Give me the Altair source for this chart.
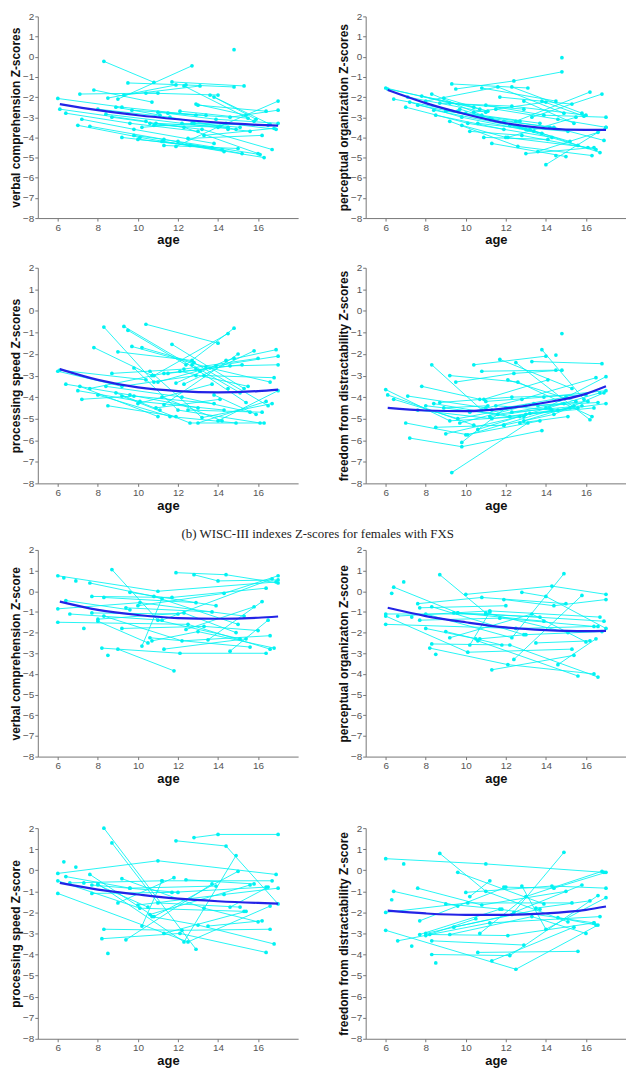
import altair as alt
import pandas as pd

# ---------------- data ----------------
# males with FXS: visit ages per subject (shared by the four indexes)
male_ages = [
    [6.0, 9.2, 12.9], [6.1, 10.4], [6.4, 9.6, 13.0], [7.0, 10.1, 14.3], [7.1, 11.0],
    [7.2, 9.8, 13.8], [7.6, 11.3, 15.2], [7.8, 10.7], [8.0, 11.6, 14.9], [8.3, 10.8],
    [8.4, 12.2, 15.6], [8.5, 11.9], [8.7, 12.3, 16.0], [8.9, 11.1], [9.2, 12.6, 16.3],
    [9.3, 13.1], [9.5, 12.4, 14.8], [9.7, 13.4], [9.8, 12.0, 16.1], [10.0, 13.7],
    [10.2, 12.8, 16.5], [10.4, 14.0], [10.6, 13.2, 16.7], [10.8, 14.5], [11.0, 13.9, 17.0],
    [11.2, 14.2], [11.3, 15.0], [11.5, 14.6, 17.0], [11.7, 15.3], [11.9, 14.4, 16.9],
    [12.1, 15.5], [12.3, 15.8], [12.5, 16.2], [12.7, 15.1], [13.0, 16.4],
    [13.3, 16.8], [13.6, 16.6], [14.0, 17.0], [14.5], [14.8],
    [13.8, 15.9], [9.0, 12.7], [10.9, 14.1], [12.9, 15.4],
]

vc_m = [
    [-2.07, -2.5, -2.9], [-2.6, -3.2], [-2.8, -3.3, -3.7], [-3.4, -4.0, -4.7], [-1.85, -1.8],
    [-3.1, -3.6, -4.3], [-3.45, -4.1, -4.8], [-1.65, -2.25], [-2.6, -3.0, -3.6], [-0.23, -1.27],
    [-2.85, -3.3, -3.7], [-2.05, -1.4], [-3.0, -3.5, -4.8], [-2.5, -2.9], [-4.0, -4.4, -5.0],
    [-1.9, -1.45], [-1.3, -1.4, -1.5], [-2.65, -2.9], [-3.9, -4.2, -4.85], [-4.1, -4.5],
    [-3.5, -3.3, -3.4], [-1.8, -1.9], [-3.3, -3.6, -4.6], [-3.4, -3.5], [-2.75, -3.1, -3.3],
    [-4.2, -4.6], [-4.4, -4.55], [-2.8, -3.0, -2.65], [-1.25, -1.45], [-4.45, -3.3, -3.6],
    [-2.7, -3.05], [-1.45, -3.2], [-4.05, -3.9], [-3.3, -3.5], [-2.4, -2.7],
    [-3.9, -3.55], [-1.9, -3.35], [-3.5, -2.2], [-3.6], [0.35],
    [-2.0, -3.1], [-2.1, -0.45], [-3.3, -3.45], [-2.35, -2.9],
]

po_m = [
    [-1.55, -2.3, -2.6], [-1.6, -2.5], [-2.1, -2.7, -3.6], [-2.5, -3.3, -4.0], [-2.0, -2.75],
    [-2.25, -3.0, -3.8], [-2.4, -3.1, -4.2], [-1.95, -2.6], [-2.2, -1.5, -2.8], [-1.85, -2.9],
    [-2.65, -3.4, -4.4], [-2.9, -3.6], [-2.3, -2.45, -2.9], [-2.05, -2.7], [-3.2, -4.45, -4.9],
    [-1.35, -1.55], [-1.6, -1.2, -0.75], [-2.6, -3.7], [-3.4, -4.0, -4.5], [-2.8, -3.3],
    [-3.7, -3.9, -4.6], [-2.75, -2.25], [-3.3, -3.6, -4.75], [-1.55, -2.2], [-2.4, -2.9, -3.0],
    [-3.05, -3.5], [-4.3, -4.95], [-2.6, -3.1, -3.5], [-2.0, -2.35], [-3.2, -3.5, -4.15],
    [-4.0, -3.0], [-1.5, -2.8], [-3.2, -1.75], [-3.5, -3.7], [-4.8, -4.5],
    [-3.0, -1.85], [-4.7, -3.75], [-5.35, -3.5], [-4.9], [-0.05],
    [-2.2, -2.95], [-2.7, -3.2], [-4.0, -4.1], [-2.2, -3.3],
]

ps_m = [
    [-2.8, -3.5, -3.0], [-2.75, -3.2], [-3.4, -3.9, -4.5], [-3.7, -4.2, -4.6], [-3.5, -4.9],
    [-4.1, -3.95, -4.3], [-3.6, -2.9, -2.5], [-1.7, -3.0], [-3.9, -4.9, -5.2], [-0.75, -3.3],
    [-3.5, -4.0, -4.7], [-4.4, -4.9], [-2.9, -2.7, -2.2], [-3.8, -4.6], [-3.95, -5.2, -5.2],
    [-0.72, -2.8], [-0.9, -2.5, -0.8], [-1.65, -2.6], [-2.65, -4.6, -5.2], [-4.3, -3.4],
    [-1.7, -2.4, -4.4], [-0.62, -1.5], [-2.8, -4.95, -4.3], [-3.0, -1.05], [-3.3, -2.55, -2.1],
    [-4.0, -5.1], [-4.35, -2.0], [-2.9, -2.55, -2.5], [-1.55, -3.6], [-3.35, -2.3, -1.8],
    [-2.8, -3.5], [-3.4, -1.85], [-4.6, -4.7], [-2.5, -3.8], [-5.2, -4.2],
    [-3.0, -3.1], [-2.65, -3.3], [-5.1, -3.7], [-3.6], [-2.2],
    [-3.9, -4.8], [-1.9, -2.3], [-4.5, -4.1], [-2.7, -4.25],
]

fd_m = [
    [-3.65, -5.1, -4.9], [-3.9, -5.3], [-4.1, -5.0, -4.4], [-5.2, -5.75, -4.6], [-3.95, -4.5],
    [-5.9, -6.3, -5.55], [-4.6, -5.0, -4.5], [-3.5, -4.1], [-4.4, -4.8, -4.3], [-2.5, -4.6],
    [-4.3, -4.9, -4.5], [-5.4, -5.3], [-4.25, -4.0, -3.9], [-4.5, -4.4], [-3.0, -3.3, -4.9],
    [-7.5, -5.2], [-3.3, -2.9, -2.75], [-5.2, -4.3], [-6.1, -4.5, -4.2], [-5.75, -5.1],
    [-4.7, -4.1, -3.1], [-2.5, -2.1], [-5.5, -4.75, -3.8], [-2.8, -2.75], [-4.2, -4.0, -3.7],
    [-4.9, -4.5], [-4.6, -4.0], [-4.4, -4.6, -4.3], [-2.25, -3.6], [-5.3, -4.8, -3.8],
    [-3.2, -4.2], [-4.7, -4.4], [-2.4, -5.05], [-5.2, -4.9], [-4.8, -4.5],
    [-2.35, -2.45], [-4.4, -4.25], [-4.5, -3.05], [-2.05], [-1.05],
    [-1.8, -4.1], [-5.7, -4.9], [-4.1, -3.2], [-5.1, -4.4],
]

# females with FXS: visit ages per subject
female_ages = [
    [6.0, 11.0, 16.9], [6.0, 10.1, 15.3], [6.0, 12.5, 16.6], [6.3], [6.4, 9.6],
    [6.6, 11.2, 16.7], [6.9], [7.3], [7.6, 10.8, 15.0], [7.7, 12.0],
    [7.7, 11.7, 16.4], [8.0, 12.3, 14.9], [8.0, 10.5], [8.2, 12.1, 16.4], [8.3, 12.9],
    [8.3, 12.2, 16.6], [8.5], [8.7, 11.0, 15.1], [9.0, 11.8], [9.2, 13.3, 16.0],
    [9.6, 13.9], [10.0, 14.3, 17.0], [10.2, 11.2], [10.6, 15.6], [10.7, 13.0, 16.8],
    [11.9, 14.4, 17.0], [12.8, 14.0, 17.0], [11.3, 15.4], [12.4, 15.8], [13.5, 16.2],
    [14.6, 16.5], [9.4, 13.7],
]

vc_f = [
    [0.75, 0.0, 0.45], [-0.85, -0.55, -1.2], [-1.5, -1.6, -2.8], [0.65], [-0.45, -0.9],
    [-1.1, -1.4, 0.6], [0.5], [-1.8], [0.4, -0.25, -1.6], [-1.05, -1.1],
    [-0.25, -0.3, 0.15], [-1.35, -1.05, -2.0], [-1.45, -2.5], [-2.75, -3.0, -3.0], [-0.3, -0.55],
    [-1.2, -2.4, -2.15], [-3.1], [1.05, -1.4, -2.3], [-2.8, -3.85], [-1.8, -1.7, -1.9],
    [-0.05, -0.7], [-0.7, -0.1, 0.75], [-2.65, -0.35], [-2.25, -2.7], [-2.4, -1.95, -2.75],
    [0.9, 0.8, 0.4], [0.8, 0.5, 0.55], [-2.8, -2.3], [-1.85, -0.75], [-2.35, -0.5],
    [-2.9, -1.4], [-0.8, -1.0],
]

po_f = [
    [-1.1, -1.1, -1.45], [-1.2, -2.95, -2.8], [-1.6, -1.8, -1.7], [-0.1], [0.2, -1.05],
    [-1.2, -0.95, -1.25], [0.45], [-1.25], [-0.6, -0.3, -0.6], [-0.8, -0.7],
    [-1.4, -1.3, -1.7], [-1.1, -2.25, 0.85], [-1.8, -2.3], [-2.75, -3.55, -4.0], [-0.75, -2.1],
    [-2.55, -2.6, -4.15], [-3.05], [0.8, -1.05, -2.0], [-1.95, -2.6], [-2.25, -1.1, -2.45],
    [-1.05, -1.45], [-0.15, 0.25, -0.15], [-2.6, -1.0], [-2.4, -4.1], [-2.3, -2.1, -1.95],
    [-0.4, -0.7, -0.4], [-0.05, -0.25, -1.8], [-3.8, -3.1], [-3.3, -0.2], [-2.5, -2.4],
    [-3.55, -2.3], [-1.05, -1.25],
]

ps_f = [
    [-0.15, 0.45, -0.2], [-0.5, -1.8, -1.95], [-1.1, -3.4, -1.7], [0.4], [-0.3, -0.85],
    [-0.6, -0.5, -0.5], [0.15], [-0.6], [-0.2, -2.2, -0.05], [-0.7, -1.05],
    [-1.1, -1.05, -0.8], [-0.65, -3.4, 0.7], [-0.7, -1.75], [-3.25, -3.0, -3.9], [2.0, -3.75],
    [-2.8, -2.85, -2.8], [-3.95], [1.3, -1.55, -1.75], [-1.55, -0.35], [-0.4, -1.8, -2.45],
    [-0.85, -0.75], [-1.65, -1.15, -0.85], [-2.65, -0.5], [-2.1, -0.7], [-2.2, -2.6, -3.5],
    [1.4, 1.15, -1.6], [1.55, 1.7, 1.7], [-3.0, -1.95], [-0.45, -0.65], [-2.65, -2.4],
    [-1.75, -0.8], [-3.3, -0.65],
]

fd_f = [
    [0.55, 0.3, -0.1], [-2.0, -1.55, -1.55], [-2.85, -4.7, -2.6], [-1.4], [-1.0, -1.7],
    [-3.35, -2.5, -2.2], [0.3], [-3.6], [-0.85, -1.65, -1.0], [-2.4, -0.8],
    [-3.05, -1.85, -2.5], [-3.0, -2.1, 0.85], [-3.1, -2.3], [-3.05, -3.1, -2.5], [-3.35, -3.55],
    [-4.0, -4.05, -1.2], [-4.4], [0.8, -1.0, -2.45], [-1.6, -1.85], [-3.05, -2.2, -3.0],
    [-0.1, -1.6], [-1.05, -0.75, -0.85], [-1.25, -0.5], [-3.9, -3.85], [-3.0, -1.25, -0.05],
    [-0.8, -0.85, -0.1], [-0.75, -2.8, -1.3], [-4.3, -2.7], [-2.0, -0.7], [-1.8, -1.45],
    [-2.25, -2.6], [-2.7, -1.85],
]

# fitted group curves, read at these ages
fit_ages = [6.1, 8, 10, 12, 14, 16, 17]
vc_m_fit = [-2.35, -2.65, -2.9, -3.1, -3.27, -3.38, -3.42]
po_m_fit = [-1.65, -2.3, -2.85, -3.3, -3.55, -3.63, -3.63]
ps_m_fit = [-2.7, -3.2, -3.55, -3.72, -3.78, -3.72, -3.65]
fd_m_fit = [-4.5, -4.62, -4.65, -4.52, -4.25, -3.85, -3.5]
vc_f_fit = [-0.5, -0.9, -1.15, -1.3, -1.33, -1.28, -1.22]
po_f_fit = [-0.8, -1.2, -1.5, -1.75, -1.88, -1.93, -1.92]
ps_f_fit = [-0.6, -0.92, -1.15, -1.35, -1.47, -1.55, -1.58]
fd_f_fit = [-1.92, -2.05, -2.12, -2.12, -2.05, -1.88, -1.72]

x_ticks = [6, 8, 10, 12, 14, 16]
y_ticks = [-8, -7, -6, -5, -4, -3, -2, -1, 0, 1, 2]
caption = "(b) WISC-III indexes Z-scores for females with FXS"

CYAN = "#00f2f2"
BLUE = "#2323e6"


def to_df(ages, scores):
    rows = []
    for i, (a, s) in enumerate(zip(ages, scores)):
        for aa, ss in zip(a, s):
            rows.append({"subject": i, "age": aa, "z": ss})
    return pd.DataFrame(rows)


def panel(ages, scores, fit, ytitle, h):
    df = to_df(ages, scores)
    fdf = pd.DataFrame({"age": fit_ages, "z": fit})
    x = alt.X("age:Q", scale=alt.Scale(domain=[5, 18], nice=False, zero=False),
              axis=alt.Axis(values=x_ticks, title="age", labelOverlap=False))
    y = alt.Y("z:Q", scale=alt.Scale(domain=[-8, 2], nice=False, zero=False),
              axis=alt.Axis(values=y_ticks, title=ytitle, labelOverlap=False,
                            tickCount=11, format="d"))
    lines = alt.Chart(df).mark_line(color=CYAN, strokeWidth=1, opacity=0.85).encode(
        x=x, y=y, detail="subject:N")
    pts = alt.Chart(df).mark_circle(color=CYAN, size=14, opacity=1).encode(x="age:Q", y="z:Q")
    fitl = alt.Chart(fdf).mark_line(color=BLUE, strokeWidth=2.2, interpolate="monotone").encode(
        x="age:Q", y="z:Q")
    return alt.layer(lines, pts, fitl).properties(width=262, height=h)


HS = 39
row1 = alt.hconcat(
    panel(male_ages, vc_m, vc_m_fit, "verbal comprehension Z-scores", 203),
    panel(male_ages, po_m, po_m_fit, "perceptual organization Z-scores", 203),
    spacing=HS)
row2 = alt.hconcat(
    panel(male_ages, ps_m, ps_m_fit, "processing speed Z-scores", 217),
    panel(male_ages, fd_m, fd_m_fit, "freedom from distractability Z-scores", 217),
    spacing=HS)
row3 = alt.hconcat(
    panel(female_ages, vc_f, vc_f_fit, "verbal comprehension Z-score", 208),
    panel(female_ages, po_f, po_f_fit, "perceptual organizaton Z-score", 208),
    spacing=HS)
row4 = alt.hconcat(
    panel(female_ages, ps_f, ps_f_fit, "processing speed  Z-score", 212),
    panel(female_ages, fd_f, fd_f_fit, "freedom from distractability Z-score", 212),
    spacing=HS)

top = alt.concat(row1, row2, columns=1, spacing=16, align="none")
bottom = alt.concat(row3, row4, columns=1, spacing=38, align="none",
                    title=alt.Title(caption, font="Liberation Serif", fontSize=13,
                                    fontWeight="normal", anchor="middle", offset=4,
                                    color="#222222"))

chart = alt.concat(top, bottom, columns=1, spacing=16, align="none").properties(
    padding={"left": 1, "top": 0, "right": 0, "bottom": 0}
).configure_view(stroke=None).configure_axis(
    grid=False, labelFont="Liberation Sans", labelFontSize=10, labelColor="#555555",
    titleFont="Liberation Sans", titleFontWeight="bold", titleColor="#111111",
    domainColor="#777777", tickColor="#777777", tickSize=3, labelPadding=1,
    domainWidth=1, tickWidth=1, labelOverlap=False
).configure_axisY(titleFontSize=12, titlePadding=0).configure_axisX(
    titleFontSize=13, titlePadding=2
)

chart.save("out.html", embed_options={"renderer": "svg", "actions": False})
